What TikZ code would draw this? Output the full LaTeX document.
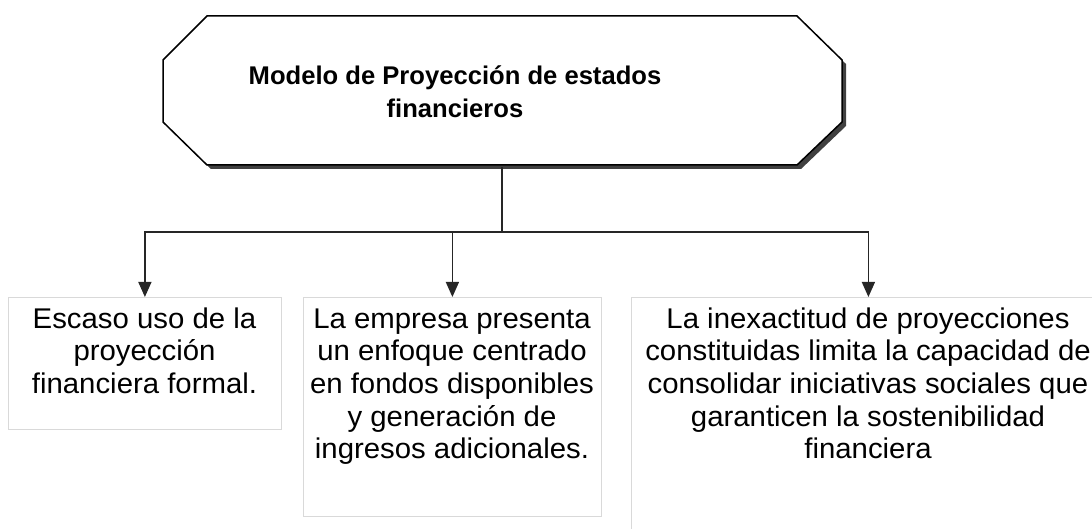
\documentclass[tikz,border=0pt]{standalone}
\usepackage{fontspec}
\setmainfont{Liberation Sans}
\newfontfamily\boxfont[FakeStretch=1.03]{Liberation Sans}
\usetikzlibrary{arrows.meta}
\begin{document}
\begin{tikzpicture}[x=1pt,y=-1pt,
  boxframe/.style={draw=black!15,line width=0.8pt,inner sep=0pt,anchor=north west},
  boxtext/.style={align=center,inner sep=0pt,anchor=base,font=\boxfont\fontsize{28.5}{32.7}\selectfont},
  titletext/.style={align=center,inner sep=0pt,anchor=base,font=\fontsize{25.6}{33}\selectfont\bfseries},
  conn/.style={draw=black!85,line width=1.4pt},
  arr/.style={conn,-{Triangle[length=15pt,width=13pt]}}]
\useasboundingbox (0,0) rectangle (1092,529);
\clip (0,0) rectangle (1092,529);
% octagon with shadow
\fill[black!75] (211,20) -- (801,20) -- (846,64) -- (846,126) -- (801,169) -- (211,169) -- (167,126) -- (167,64) -- cycle;
\draw[fill=white,line width=1.5pt] (207,16) -- (797,16) -- (842,60) -- (842,122) -- (797,165) -- (207,165) -- (163,122) -- (163,60) -- cycle;
\node[titletext] (title) at (455,118) {Modelo de Proyección de estados\\financieros};
\coordinate (ob) at (502,167);
\coordinate (jn) at (502,232);
% boxes
\node[boxframe,minimum width=273pt,minimum height=132pt] (b1) at (8,297) {};
\node[boxframe,minimum width=298pt,minimum height=219pt] (b2) at (303,297) {};
\node[boxframe,minimum width=474pt,minimum height=260pt] (b3) at (631,297) {};
\node[boxtext] (t1) at (144.5,393.4) {Escaso uso de la\\proyección\\financiera formal.};
\node[boxtext] (t2) at (452,458.8) {La empresa presenta\\un enfoque centrado\\en fondos disponibles\\y generación de\\ingresos adicionales.};
\node[boxtext] (t3) at (868,458.8) {La inexactitud de proyecciones\\constituidas limita la capacidad de\\consolidar iniciativas sociales que\\garanticen la sostenibilidad\\financiera};
% connectors
\draw[conn] (ob) -- (jn);
\draw[arr] (jn) -| (b1.north);
\draw[arr] (jn) -| (b2.north);
\draw[arr] (jn) -| (b3.north);
\end{tikzpicture}
\end{document}
